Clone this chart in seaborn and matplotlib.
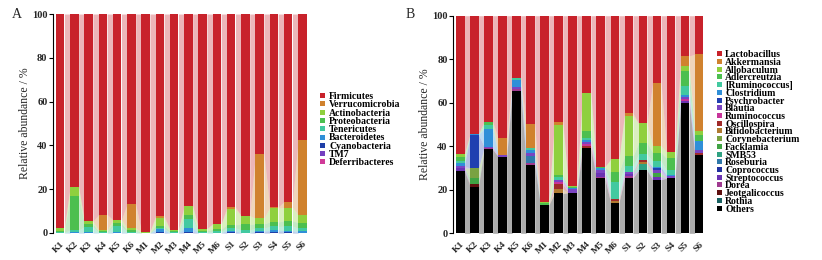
import numpy as np
import pandas as pd
import matplotlib
matplotlib.use("Agg")
import matplotlib.pyplot as plt
from matplotlib.patches import Rectangle
import seaborn as sns

# ---------------- data ----------------
samples = ["K1", "K2", "K3", "K4", "K5", "K6", "M1", "M2", "M3", "M4", "M5", "M6",
           "S1", "S2", "S3", "S4", "S5", "S6"]

# Panel A (phylum level), legend order (top of stack first)
phyla = ["Firmicutes", "Verrucomicrobia", "Actinobacteria", "Proteobacteria",
         "Tenericutes", "Bacteroidetes", "Cyanobacteria", "TM7", "Deferribacteres"]
phyla_colors = ["#c8222b", "#d0822e", "#8fd03e", "#4cbf4f", "#42c9a0",
                "#2f8fd8", "#1f3fa8", "#7440c0", "#d03a98"]
firmicutes      = [97.6, 79.1, 94.7, 91.6, 94.0, 86.8, 99.4, 92.1, 98.5, 87.6, 98.0, 95.8, 88.2, 92.1, 63.8, 88.2, 85.7, 57.5]
verrucomicrobia = [0, 0, 0, 7.2, 0, 11.0, 0, 1.2, 0, 0, 0, 0, 1.0, 0, 29.5, 0.3, 2.7, 34.3]
actinobacteria  = [1.5, 4.0, 1.0, 0.5, 1.5, 0.8, 0.4, 3.3, 0.8, 4.0, 1.0, 2.5, 7.0, 4.0, 2.5, 6.5, 6.0, 3.5]
proteobacteria  = [0.6, 15.5, 1.5, 0.4, 1.5, 0.8, 0.2, 1.3, 0.4, 2.0, 0.5, 1.0, 1.5, 2.5, 2.0, 2.0, 2.5, 2.5]
tenericutes     = [0.2, 1.0, 2.5, 0.2, 2.5, 0.5, 0, 0.5, 0.3, 4.0, 0.4, 0.5, 1.2, 1.2, 1.2, 1.8, 2.0, 1.5]
bacteroidetes   = [0.1, 0.3, 0.3, 0.1, 0.4, 0.1, 0, 1.3, 0, 1.8, 0.1, 0.2, 0.6, 0.2, 0.5, 0.6, 0.6, 0.5]
cyanobacteria   = [0, 0.1, 0, 0, 0.1, 0, 0, 0.3, 0, 0.5, 0, 0, 0.5, 0, 0.5, 0.6, 0.5, 0.2]
tm7             = [0, 0, 0, 0, 0, 0, 0, 0, 0, 0.1, 0, 0, 0, 0, 0, 0, 0, 0]
deferribacteres = [0] * 18
phyla_values = [firmicutes, verrucomicrobia, actinobacteria, proteobacteria, tenericutes,
                bacteroidetes, cyanobacteria, tm7, deferribacteres]

# Panel B (genus level), legend order (top of stack first)
genera = ["Lactobacillus", "Akkermansia", "Allobaculum", "Adlercreutzia", "[Ruminococcus]",
          "Clostridium", "Psychrobacter", "Blautia", "Ruminococcus", "Oscillospira",
          "Bifidobacterium", "Corynebacterium", "Facklamia", "SMB53", "Roseburia",
          "Coprococcus", "Streptococcus", "Dorea", "Jeotgalicoccus", "Rothia", "Others"]
genera_colors = ["#c8222b", "#d0822e", "#8fd03e", "#4cbf4f", "#42c9a0",
                 "#2f8fd8", "#2040b0", "#7a44c2", "#c8349a", "#a02a2a",
                 "#b07a30", "#7aa242", "#40a444", "#2fa282", "#2f78aa",
                 "#2232a0", "#6a32b2", "#a03a90", "#5e1010", "#186262", "#000000"]
lactobacillus   = [63.5, 54.2, 48.7, 56.4, 28.8, 49.6, 85.8, 48.7, 78.3, 35.4, 69.4, 66.0, 44.8, 49.5, 30.9, 62.8, 18.5, 17.7]
akkermansia     = [0, 0, 0, 7.6, 0, 11.0, 0, 1.4, 0, 0, 0, 0, 1.3, 0, 29.0, 0, 4.5, 35.5]
allobaculum     = [1.3, 0.3, 0, 0, 0, 0, 0.5, 23.0, 0.5, 17.8, 0, 5.9, 18.5, 9.0, 3.0, 2.8, 2.5, 1.6]
adlercreutzia   = [2.0, 0, 1.7, 0, 0, 0, 0.7, 1.2, 0.5, 3.0, 0.5, 4.5, 4.5, 5.0, 4.0, 5.5, 7.0, 3.0]
ruminococcus_b  = [1.0, 0, 1.5, 0, 0.8, 1.0, 0, 1.2, 0, 1.0, 0, 8.0, 2.5, 3.0, 2.5, 2.0, 4.0, 0]
clostridium     = [1.2, 0.3, 8.3, 0, 3.2, 1.5, 0, 0, 0.5, 1.0, 1.0, 0, 0, 0, 0.5, 0.7, 1.0, 3.8]
psychrobacter   = [0, 15.2, 0, 0, 0, 0, 0, 0, 0, 0, 0, 0, 0, 0, 1.0, 0, 0, 0]
blautia         = [1.0, 0, 0.7, 0.8, 1.0, 1.2, 0, 1.0, 1.5, 0.6, 1.5, 0, 1.0, 0, 1.5, 0.8, 1.0, 1.5]
ruminococcus    = [0, 0, 0, 0, 0, 0, 0, 1.0, 0, 1.2, 0, 0, 0, 0, 0, 0, 0.5, 0]
oscillospira    = [0, 0, 0, 0, 0, 0, 0, 2.2, 0, 1.0, 0, 0.8, 0, 0.8, 0, 0, 0, 0.8]
bifidobacterium = [0, 0, 0, 0, 0, 0, 0, 2.0, 0, 0, 0, 0.7, 0, 0.8, 0, 0, 0, 0]
corynebacterium = [0, 4.5, 0, 0, 0, 0, 0, 0, 0, 0, 0, 0, 0, 0, 0, 0, 0, 0]
facklamia       = [0, 3.0, 0, 0, 0, 0, 0, 0, 0, 0, 0, 0, 0, 0, 1.5, 0, 0, 0]
smb53           = [0, 0, 0, 0, 0, 0, 0, 0, 0, 0, 0, 0, 0, 3.0, 0, 0, 0, 0]
roseburia       = [0, 0, 0, 0, 0, 3.5, 0, 0, 0, 0, 0, 0, 0, 0, 0, 0, 0, 0]
coprococcus     = [0] * 18
streptococcus   = [1.5, 0, 0, 0, 0, 0, 0, 0, 0, 0, 1.5, 0, 1.2, 0, 1.5, 0, 1.0, 0]
dorea           = [0, 0, 0.5, 0, 0.7, 0.8, 0, 0, 0, 0, 0.8, 0, 0.8, 0, 0, 0, 0, 0]
jeotgalicoccus  = [0, 1.0, 0, 0, 0, 0, 0, 0, 0, 0, 0, 0, 0, 0, 0, 0, 0, 0]
rothia          = [0] * 18
others          = [28.5, 21.5, 38.6, 35.2, 65.5, 31.4, 13.0, 18.3, 18.7, 39.0, 25.3, 14.1, 25.4, 28.9, 24.6, 25.4, 60.0, 36.1]
genera_values = [lactobacillus, akkermansia, allobaculum, adlercreutzia, ruminococcus_b,
                 clostridium, psychrobacter, blautia, ruminococcus, oscillospira,
                 bifidobacterium, corynebacterium, facklamia, smb53, roseburia,
                 coprococcus, streptococcus, dorea, jeotgalicoccus, rothia, others]

# ---------------- style ----------------
sns.set_style("white")
plt.rcParams["font.family"] = ["Liberation Serif", "DejaVu Serif"]

W, H = 822, 260
fig = plt.figure(figsize=(W / 100, H / 100), dpi=100)
axA = fig.add_axes([53 / W, 27 / H, 256.6 / W, 219 / H])
axB = fig.add_axes([453.3 / W, 26.7 / H, 252.7 / W, 217.6 / H])

BAR_W = 0.6


def stacked(ax, names, colors, values):
    # values in legend order (top first); stack bottom-up = reversed
    vals = np.array(values[::-1], dtype=float)
    cols = colors[::-1]
    tops = np.cumsum(vals, axis=0)
    bottoms = tops - vals
    n = len(samples)
    # connecting bands between bars
    for k in range(len(vals)):
        for i in range(n - 1):
            xs = [i + BAR_W / 2, i + 1 - BAR_W / 2]
            ax.fill_between(xs, [bottoms[k, i], bottoms[k, i + 1]],
                            [tops[k, i], tops[k, i + 1]],
                            color=cols[k], alpha=0.33, linewidth=0, zorder=0)
    # bars: draw from highest cumulative layer down
    for k in range(len(vals) - 1, -1, -1):
        df = pd.DataFrame({"sample": samples, "top": tops[k]})
        sns.barplot(data=df, x="sample", y="top", order=samples, color=cols[k],
                    saturation=1, width=BAR_W, edgecolor="none", linewidth=0,
                    ax=ax, zorder=2)
    ax.set_xlim(-0.5, n - 0.5)
    ax.set_ylim(0, 100)
    ax.set_yticks([0, 20, 40, 60, 80, 100])
    ax.set_xlabel("")
    ax.set_ylabel("Relative abundance / %", fontsize=8.5, labelpad=1)
    for s in ["top", "right", "bottom"]:
        ax.spines[s].set_visible(False)
    ax.spines["left"].set_color("black")
    ax.spines["left"].set_linewidth(0.8)
    ax.tick_params(axis="y", left=True, length=3, width=0.8, pad=1, labelsize=7.5, color="black")
    ax.tick_params(axis="x", bottom=False, pad=1.5, labelsize=6.8)
    for t in ax.get_yticklabels():
        t.set_fontweight("bold")
    for t in ax.get_xticklabels():
        t.set_rotation(45)
        t.set_ha("right")
        t.set_rotation_mode("anchor")
        t.set_va("top")
        t.set_fontweight("bold")


stacked(axA, phyla, phyla_colors, phyla_values)
stacked(axB, genera, genera_colors, genera_values)


def legend(names, colors, x_sq, x_txt, y0, dy, sq, fs):
    for i, (lab, c) in enumerate(zip(names, colors)):
        y = y0 + i * dy
        fig.patches.append(Rectangle(((x_sq - sq / 2) / W, 1 - (y + sq / 2) / H), sq / W, sq / H,
                                     transform=fig.transFigure, facecolor=c, edgecolor="none"))
        fig.text(x_txt / W, 1 - y / H, lab, va="center_baseline", ha="left", fontsize=fs,
                 color="black", fontweight="bold")


legend(phyla, phyla_colors, 322, 329, 95.5, 8.3, 5, 7)
legend(genera, genera_colors, 719, 725, 53.7, 7.72, 5, 7)

fig.text(12 / W, 1 - 14 / H, "A", fontsize=10, va="center", ha="left")
fig.text(406 / W, 1 - 15 / H, "B", fontsize=10, va="center", ha="left")

fig.savefig("out.png", dpi=100)
